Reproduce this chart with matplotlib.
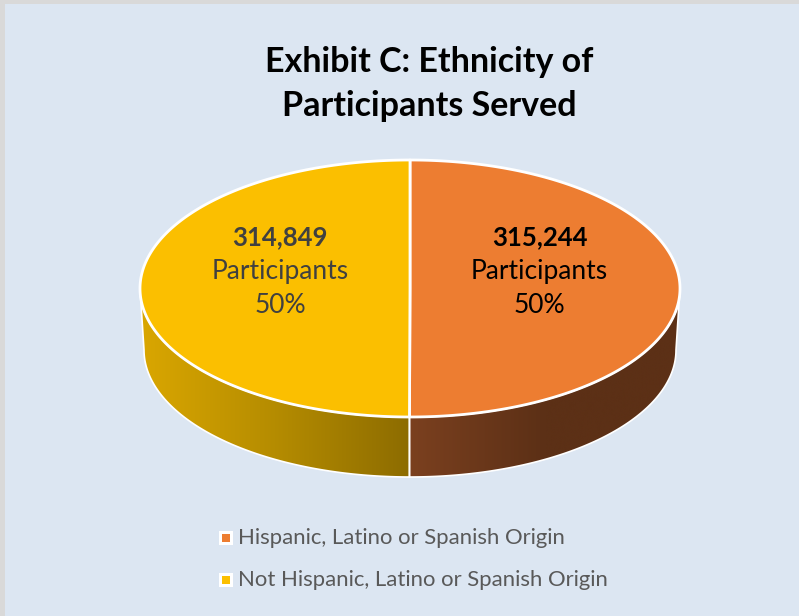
import numpy as np
import matplotlib
matplotlib.use("Agg")
import matplotlib.pyplot as plt
from matplotlib.patches import Polygon, Rectangle
from matplotlib.colors import LinearSegmentedColormap

plt.rcParams['font.family'] = ['Lato', 'DejaVu Sans']

# ---- data ----
categories = ["Hispanic, Latino or Spanish Origin",
              "Not Hispanic, Latino or Spanish Origin"]
values = [315244, 314849]
top_colors = ["#ED7D31", "#FBBF00"]
side_grad = [("#7B401F", "#5C3016", "#5C3016"), ("#8D6C00", "#B58C00", "#DAA700")]
label_colors = ["#000000", "#404040"]
title_lines = ["Exhibit C: Ethnicity of", "Participants Served"]

W, H = 799, 616
fig = plt.figure(figsize=(W / 100, H / 100), dpi=100, facecolor="#D9D9D9")
ax = fig.add_axes([0, 0, 1, 1])
ax.set_xlim(0, W)
ax.set_ylim(H, 0)
ax.axis("off")
ax.add_patch(Rectangle((5, 4), W, H, facecolor="#DCE6F2", edgecolor="none", zorder=0))

# pie geometry (pixel space, y down)
cx, cy, a, b = 410, 288.5, 270, 128.5
cxb, cyb, ab, bb = 410, 350, 266, 127

def top_pt(t):
    return cx + a * np.cos(t), cy + b * np.sin(t)

def bot_pt(t):
    return cxb + ab * np.cos(t), cyb + bb * np.sin(t)

total = float(sum(values))
fracs = [v / total for v in values]
start = -np.pi / 2
bounds = [start]
for f in fracs:
    bounds.append(bounds[-1] + 2 * np.pi * f)

# sides (front visible part t in [0, pi])
for i in range(len(values)):
    t0, t1 = max(bounds[i], 0.0), min(bounds[i + 1], np.pi)
    if t1 <= t0:
        continue
    ts = np.linspace(t0, t1, 200)
    xt, yt = top_pt(ts)
    xb, yb = bot_pt(ts[::-1])
    poly_xy = np.column_stack([np.concatenate([xt, xb]), np.concatenate([yt, yb])])
    ax.add_patch(Polygon(poly_xy, closed=True, facecolor="none", edgecolor="white",
                         lw=1.2, zorder=3))
    xmin, xmax = poly_xy[:, 0].min(), poly_xy[:, 0].max()
    ymin, ymax = poly_xy[:, 1].min(), poly_xy[:, 1].max()
    cmap = LinearSegmentedColormap.from_list("g%d" % i, list(side_grad[i]))
    grad = np.linspace(0, 1, 256).reshape(1, -1)
    if i == 1:
        grad = 1 - grad
    im = ax.imshow(grad, cmap=cmap, extent=(xmin, xmax, ymax, ymin),
                   aspect="auto", zorder=2, interpolation="bicubic")
    im.set_clip_path(Polygon(poly_xy, closed=True, transform=ax.transData))

# top faces
for i in range(len(values)):
    ts = np.linspace(bounds[i], bounds[i + 1], 300)
    xt, yt = top_pt(ts)
    xy = np.column_stack([np.concatenate([[cx], xt]), np.concatenate([[cy], yt])])
    ax.add_patch(Polygon(xy, closed=True, facecolor=top_colors[i], edgecolor="white",
                         lw=2, joinstyle="round", zorder=4))

# labels
for i in range(len(values)):
    tm = (bounds[i] + bounds[i + 1]) / 2
    lx = cx + 0.48 * a * np.cos(tm)
    ly = cy + 0.48 * b * np.sin(tm) - 17
    c = label_colors[i]
    ax.text(lx, ly - 34, f"{values[i]:,}", ha="center", va="center", fontsize=18.5,
            fontweight="bold", color=c, zorder=6)
    ax.text(lx, ly, "Participants", ha="center", va="center", fontsize=19, color=c, zorder=6)
    ax.text(lx, ly + 34, f"{round(fracs[i] * 100):d}%", ha="center", va="center",
            fontsize=19, color=c, zorder=6)

# title
for k, line in enumerate(title_lines):
    ax.text(429, 62 + 44 * k, line, ha="center", va="center", fontsize=24.5,
            fontweight="bold", color="#000000", zorder=6)

# legend
leg_y = [538, 580]
for i, lab in enumerate(categories):
    ax.add_patch(Rectangle((219, leg_y[i] - 7), 14, 14, facecolor="white", edgecolor="none", zorder=5))
    ax.add_patch(Rectangle((222, leg_y[i] - 4), 8, 8, facecolor=top_colors[i], edgecolor="none", zorder=6))
    ax.text(238, leg_y[i], lab, ha="left", va="center", fontsize=15.9, color="#595959", zorder=6)

fig.savefig("out.png", dpi=100, facecolor=fig.get_facecolor())
